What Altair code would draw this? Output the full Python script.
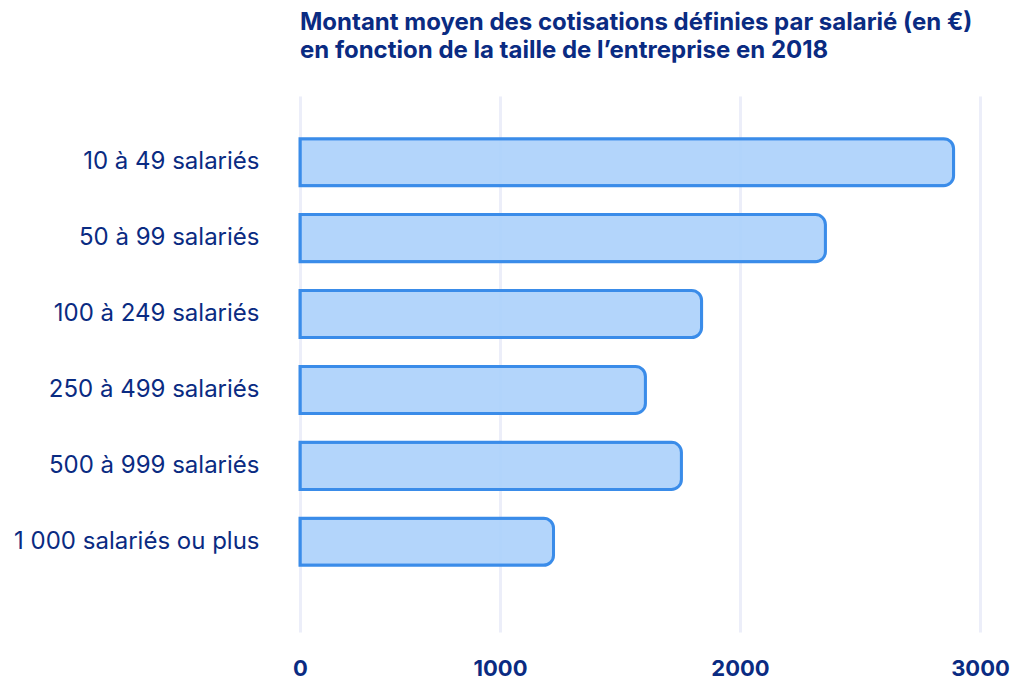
import pandas as pd
import altair as alt

# Average defined contributions per employee (EUR), by company size, 2018
categories = [
    "10 à 49 salariés",
    "50 à 99 salariés",
    "100 à 249 salariés",
    "250 à 499 salariés",
    "500 à 999 salariés",
    "1 000 salariés ou plus",
]
amounts = [2890, 2356, 1840, 1606, 1756, 1223]
tick_values = [0, 1000, 2000, 3000]

df = pd.DataFrame({"Taille": categories, "Montant": amounts})

NAVY = "#0a2b82"
FONT = "Inter"

chart = alt.Chart(df).mark_bar(
    fill="#abd0fb",
    fillOpacity=0.9,
    stroke="#3a8ce9",
    strokeWidth=3,
    cornerRadiusTopRight=10,
    cornerRadiusBottomRight=10,
).encode(
    x=alt.X(
        "Montant:Q",
        title=None,
        # axis spacing as drawn in the source: 0-1000 narrower than the others
        scale=alt.Scale(domain=tick_values, range=[0, 200, 440, 680], nice=False),
        axis=alt.Axis(
            values=tick_values,
            format="d",
            domain=False,
            ticks=False,
            grid=True,
            gridColor="#eceef9",
            gridWidth=3,
            labelFont=FONT,
            labelFontSize=22,
            labelFontWeight="bold",
            labelColor=NAVY,
            labelPadding=26,
            labelFlush=False,
        ),
    ),
    y=alt.Y(
        "Taille:N",
        sort=categories,
        title=None,
        scale=alt.Scale(paddingInner=0.38, paddingOuter=0.72, align=0.39),
        axis=alt.Axis(
            domain=False,
            ticks=False,
            grid=False,
            labelFont=FONT,
            labelFontSize=24,
            labelFontWeight="normal",
            labelColor=NAVY,
            labelPadding=41,
            labelLimit=400,
        ),
    ),
    tooltip=["Taille", "Montant"],
).properties(
    width=680,
    height=536,
    title=alt.TitleParams(
        text=[
            "Montant moyen des cotisations définies par salarié (en €)",
            "en fonction de la taille de l’entreprise en 2018",
        ],
        anchor="start",
        frame="group",
        font=FONT,
        fontSize=24,
        fontWeight="bold",
        color=NAVY,
        lineHeight=28,
        offset=33,
    ),
    autosize=alt.AutoSizeParams(type="none"),
    padding={"left": 292, "top": 88, "right": 36, "bottom": 48},
).configure_view(
    stroke=None
)

chart.save("out.html", embed_options={"renderer": "svg", "actions": False})
